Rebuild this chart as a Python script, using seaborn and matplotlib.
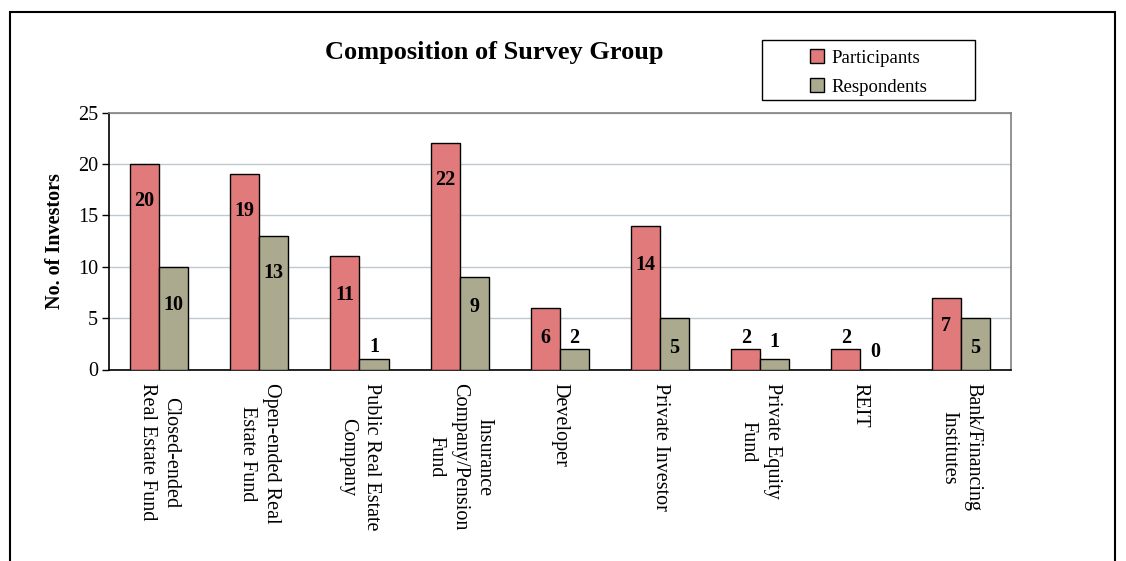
import pandas as pd
import matplotlib
matplotlib.use("Agg")
import matplotlib.pyplot as plt
import matplotlib.patches as mpatches
import matplotlib.transforms as mtransforms
import seaborn as sns

# data
categories = ["Closed-ended\nReal Estate Fund", "Open-ended Real\nEstate Fund",
              "Public Real Estate\nCompany", "Insurance\nCompany/Pension\nFund",
              "Developer", "Private Investor", "Private Equity\nFund", "REIT",
              "Bank/Financing\nInstitutes"]
participants = [20, 19, 11, 22, 6, 14, 2, 2, 7]
respondents = [10, 13, 1, 9, 2, 5, 1, 0, 5]
series = ["Participants", "Respondents"]
yticks = [0, 5, 10, 15, 20, 25]

# where the value labels sit (the original has them hand-placed)
label_part = [16.4, 15.4, 7.2, 18.4, 3.1, 10.2, 3.1, 3.1, 4.2]
label_resp = [6.3, 9.4, 2.2, 6.1, 3.1, 2.1, 2.7, 1.7, 2.1]

colors = {"Participants": "#E07A7B", "Respondents": "#ABAA8E"}

df = pd.DataFrame({
    "Category": categories * 2,
    "Series": [series[0]] * len(categories) + [series[1]] * len(categories),
    "Count": participants + respondents,
})

sns.set_style("white")
plt.rcParams["font.family"] = ["Liberation Serif", "DejaVu Serif"]
plt.rcParams["text.color"] = "black"
plt.rcParams["axes.labelcolor"] = "black"
plt.rcParams["xtick.color"] = "black"
plt.rcParams["ytick.color"] = "black"

fig = plt.figure(figsize=(11.26, 5.61), dpi=100)
ax = fig.add_axes([109 / 1126, 1 - 369.5 / 561, (1010.7 - 109) / 1126, (369.5 - 112.5) / 561])

sns.barplot(data=df, x="Category", y="Count", hue="Series", palette=colors,
            order=categories, hue_order=series, width=0.58, saturation=1,
            edgecolor="black", linewidth=1, ax=ax, legend=False, zorder=3)

ax.set_xlim(-0.5, len(categories) - 0.5)
ax.set_ylim(0, 25)
ax.set_yticks(yticks)
ax.set_yticklabels([str(t) for t in yticks], fontsize=14.5)
ax.yaxis.grid(True, color="#BFC7CF", linewidth=1, zorder=0)
ax.set_axisbelow(True)

# category labels centred, tick marks on the boundaries
ax.set_xticks(range(len(categories)))
ax.set_xticklabels(categories, rotation=-90, ha="center", va="top",
                   multialignment="center", fontsize=14.5, linespacing=1.35)
shift = mtransforms.ScaledTranslation(-5 / 100, 0, fig.dpi_scale_trans)
for lab in ax.get_xticklabels():
    lab.set_transform(lab.get_transform() + shift)
ax.tick_params(axis="x", which="major", length=0, pad=10)
ax.set_xticks([i - 0.5 for i in range(len(categories) + 1)], minor=True)
ax.tick_params(axis="x", which="minor", length=5, direction="out", color="black", width=1)
ax.tick_params(axis="y", length=5, direction="out", color="black", width=1, left=True, pad=3)

ax.set_xlabel("")
ax.set_ylabel("No. of Investors", fontsize=14.5, fontweight="bold", labelpad=9)

for side in ["left", "bottom"]:
    ax.spines[side].set_color("black")
    ax.spines[side].set_linewidth(1.2)
for side in ["top", "right"]:
    ax.spines[side].set_color("#808080")
    ax.spines[side].set_linewidth(1.2)

# value labels
for cont, ys, vals in zip(ax.containers, [label_part, label_resp], [participants, respondents]):
    for bar, y, v in zip(cont, ys, vals):
        ax.text(bar.get_x() + bar.get_width() / 2, y, str(v), ha="center", va="center",
                fontsize=14.5, fontweight="bold", zorder=5)

fig.text(494 / 1126, 1 - 53 / 561, "Composition of Survey Group", ha="center", va="center",
         fontsize=19, fontweight="bold")

# legend in its own box
handles = [mpatches.Patch(facecolor=colors[s], edgecolor="black", linewidth=1, label=s) for s in series]
fig.legend(handles=handles, loc="center", bbox_to_anchor=(868.5 / 1126, 1 - 72.5 / 561),
           frameon=False, fontsize=13.5, handlelength=0.75, handleheight=0.75,
           handletextpad=0.4, labelspacing=0.6)
fig.patches.append(mpatches.Rectangle((762 / 1126, 1 - 100 / 561), 213 / 1126, 60 / 561,
                                      transform=fig.transFigure, fill=False,
                                      edgecolor="black", linewidth=1))

# outer chart frame (bottom edge runs off the image)
fig.patches.append(mpatches.Rectangle((10 / 1126, -0.1), 1105 / 1126, 0.1 + 1 - 12 / 561,
                                      transform=fig.transFigure, fill=False,
                                      edgecolor="black", linewidth=1.5, clip_on=False))

fig.savefig("out.png", dpi=100)
